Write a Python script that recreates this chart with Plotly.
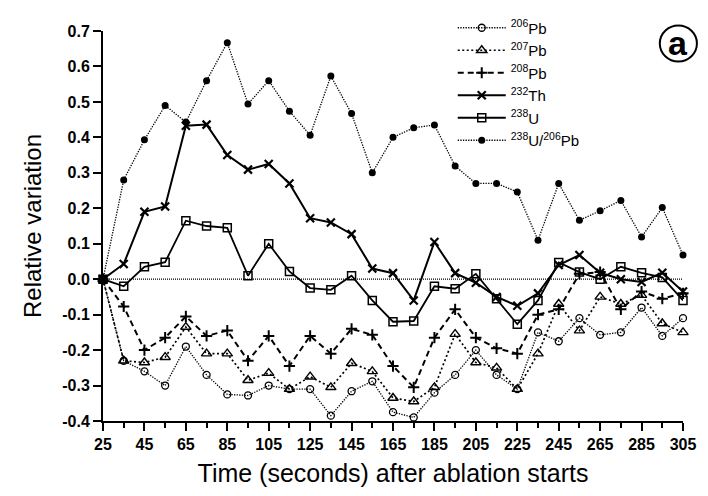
import plotly.graph_objects as go

time_s = [25, 35, 45, 55, 65, 75, 85, 95, 105, 115, 125, 135, 145, 155, 165,
          175, 185, 195, 205, 215, 225, 235, 245, 255, 265, 275, 285, 295, 305]

pb206 = [0, -0.23, -0.26, -0.30, -0.19, -0.27, -0.325, -0.328, -0.30, -0.31,
         -0.31, -0.385, -0.316, -0.288, -0.375, -0.39, -0.32, -0.27, -0.20, -0.27,
         -0.31, -0.15, -0.175, -0.11, -0.157, -0.15, -0.08, -0.16, -0.11]
pb207 = [0, -0.23, -0.235, -0.22, -0.135, -0.21, -0.21, -0.285, -0.265, -0.31,
         -0.275, -0.305, -0.237, -0.26, -0.335, -0.345, -0.305, -0.155, -0.235, -0.25,
         -0.31, -0.21, -0.07, -0.145, -0.05, -0.07, -0.045, -0.125, -0.15]
pb208 = [0, -0.077, -0.20, -0.165, -0.105, -0.16, -0.145, -0.23, -0.16, -0.245,
         -0.16, -0.21, -0.14, -0.157, -0.245, -0.305, -0.165, -0.085, -0.165, -0.195,
         -0.21, -0.10, -0.085, 0.015, 0.02, -0.085, -0.035, -0.055, -0.04]
th232 = [0, 0.043, 0.19, 0.205, 0.433, 0.436, 0.35, 0.309, 0.325, 0.27,
         0.172, 0.16, 0.127, 0.03, 0.017, -0.06, 0.105, 0.017, -0.01, -0.05,
         -0.075, -0.04, 0.04, 0.068, 0.018, 0.0, -0.008, 0.018, -0.035]
u238 = [0, -0.02, 0.035, 0.048, 0.165, 0.15, 0.145, 0.01, 0.1, 0.022,
        -0.025, -0.03, 0.01, -0.06, -0.12, -0.118, -0.02, -0.027, 0.015, -0.055,
        -0.127, -0.06, 0.047, 0.02, 0.0, 0.035, 0.018, 0.005, -0.06]
u_pb = [0, 0.28, 0.393, 0.49, 0.443, 0.56, 0.667, 0.494, 0.56, 0.474,
        0.406, 0.573, 0.467, 0.30, 0.40, 0.427, 0.435, 0.319, 0.27, 0.27,
        0.246, 0.11, 0.27, 0.166, 0.193, 0.222, 0.119, 0.202, 0.068]

names = ["<sup>206</sup>Pb", "<sup>207</sup>Pb", "<sup>208</sup>Pb",
         "<sup>232</sup>Th", "<sup>238</sup>U", "<sup>238</sup>U/<sup>206</sup>Pb"]

y_ticks = [-0.4, -0.3, -0.2, -0.1, 0.0, 0.1, 0.2, 0.3, 0.4, 0.5, 0.6, 0.7]
y_ticktext = ["-0.4", "-0.3", "-0.2", "-0.1", "0.0", "0.1", "0.2", "0.3", "0.4", "0.5", "0.6", "0.7"]

FONT = "Liberation Sans, Arial, sans-serif"
K = "black"

series = [
    (pb206, names[0], dict(color=K, width=1.3, dash="1.3px,1.3px"),
     dict(symbol="circle-open", size=7, color=K, line=dict(width=1.3, color=K))),
    (pb207, names[1], dict(color=K, width=1.7, dash="2px,2.5px"),
     dict(symbol="triangle-up-open", size=9, color=K, line=dict(width=1.4, color=K))),
    (pb208, names[2], dict(color=K, width=2, dash="6px,4px"),
     dict(symbol="cross-thin-open", size=8, color=K, line=dict(width=2, color=K))),
    (th232, names[3], dict(color=K, width=2),
     dict(symbol="x-thin-open", size=8, color=K, line=dict(width=2.2, color=K))),
    (u238, names[4], dict(color=K, width=1.8),
     dict(symbol="square-open", size=8, color=K, line=dict(width=1.5, color=K))),
    (u_pb, names[5], dict(color=K, width=1.3, dash="1.3px,1.3px"),
     dict(symbol="circle", size=7, color=K, line=dict(width=0, color=K))),
]

fig = go.Figure()
for vals, nm, ln, mk in series:
    fig.add_trace(go.Scatter(x=time_s, y=vals, name=nm, mode="lines+markers",
                             line=ln, marker=mk, cliponaxis=False))

# dotted zero reference line
fig.add_shape(type="line", xref="paper", yref="y", x0=0, x1=1, y0=0, y1=0,
              line=dict(color=K, width=1.2, dash="1px,1px"), layer="below")

# circled panel label
fig.add_shape(type="circle", xref="paper", yref="paper",
              x0=0.960, x1=1.024, y0=0.922, y1=1.014,
              line=dict(color=K, width=2))
fig.add_annotation(text="a", xref="paper", yref="paper", x=0.992, y=0.970,
                   showarrow=False, font=dict(family=FONT, size=34, color=K, weight="bold"),
                   xanchor="center", yanchor="middle")

fig.update_layout(
    width=708, height=496,
    margin=dict(l=103, r=18, t=13, b=75),
    paper_bgcolor="white", plot_bgcolor="white",
    font=dict(family=FONT, color=K),
    showlegend=True,
    legend=dict(x=0.603, y=1.05, xanchor="left", yanchor="top",
                bgcolor="rgba(0,0,0,0)", itemwidth=48,
                font=dict(family=FONT, size=15, color=K),
                tracegroupgap=0, itemclick=False),
    xaxis=dict(range=[25, 305], tickmode="linear", tick0=25, dtick=20,
               showline=True, linecolor=K, linewidth=2, mirror=False,
               ticks="outside", ticklen=8, tickwidth=2, tickcolor=K,
               minor=dict(tick0=25, dtick=10, ticks="outside", ticklen=5, tickwidth=2, tickcolor=K),
               showgrid=False, zeroline=False,
               tickfont=dict(family=FONT, size=16, color=K, weight="bold"),
               title=dict(text="Time (seconds) after ablation starts",
                          font=dict(family=FONT, size=25, color=K), standoff=12)),
    yaxis=dict(range=[-0.4, 0.7], tickmode="array", tickvals=y_ticks, ticktext=y_ticktext,
               showline=True, linecolor=K, linewidth=2,
               ticks="outside", ticklen=8, tickwidth=2, tickcolor=K,
               showgrid=False, zeroline=False,
               tickfont=dict(family=FONT, size=16, color=K, weight="bold"),
               title=dict(text="Relative variation",
                          font=dict(family=FONT, size=24, color=K), standoff=14)),
)

fig.write_html("out.html")
